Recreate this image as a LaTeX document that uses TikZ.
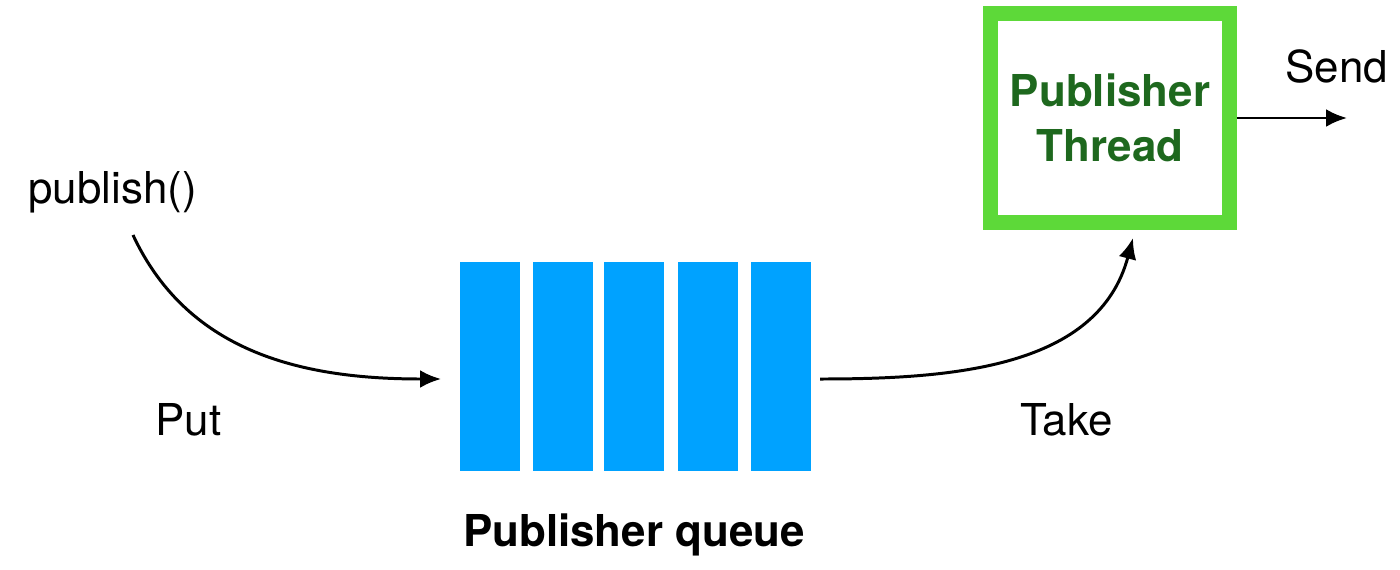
\documentclass[tikz,border=0pt]{standalone}
\usepackage{fontspec}
\setmainfont{TeX Gyre Heros}
\usetikzlibrary{arrows.meta}
\definecolor{qblue}{RGB}{0,162,255}
\definecolor{tgreen}{RGB}{93,217,57}
\definecolor{tdark}{RGB}{30,104,30}
\tikzstyle{queuebar}=[rectangle,fill=qblue,inner sep=0pt,
                      minimum width=1.2cm,minimum height=4.18cm]
\tikzstyle{threadbox}=[rectangle,draw=tgreen,line width=8.5pt,
                       minimum width=4.78cm,minimum height=4.18cm,
                       align=center,text=tdark,
                       font=\fontsize{25}{31}\selectfont\bfseries]
\tikzstyle{lbl}=[inner sep=0pt,font=\fontsize{25}{30}\selectfont]
\tikzstyle{flow}=[line width=1.7pt,-{Latex[length=4.2mm,width=3.6mm]}]

\begin{document}
\begin{tikzpicture}[x=0.02cm,y=-0.02cm]
    \useasboundingbox (0,0) rectangle (1400,569);
    \newcommand{\qy}{366.5}
    % queue
    \node (q1) at (490,   \qy) [queuebar]{};
    \node (q2) at (562.5, \qy) [queuebar]{};
    \node (q3) at (634,   \qy) [queuebar]{};
    \node (q4) at (707.5, \qy) [queuebar]{};
    \node (q5) at (781,   \qy) [queuebar]{};
    \node (qname) at (634,546) [lbl,anchor=base,font=\fontsize{25}{30}\selectfont\bfseries]{Publisher queue};
    % thread
    \node (thread) at (1110,118) [threadbox]{Publisher\\Thread};
    % labels
    \node (pub)  at (28,203)   [lbl,anchor=base west]{publish()};
    \node (put)  at (155,435)  [lbl,anchor=base west]{Put};
    \node (take) at (1020,435) [lbl,anchor=base west]{Take};
    \node (send) at (1285,82)  [lbl,anchor=base west]{Send};
    \coordinate (putstart) at (133,235);
    \coordinate (putend) at (441,379);
    \coordinate (takestart) at (820,379);
    \coordinate (takeend) at (1133,238);
    \coordinate (sendend) at (1347,118);
    % arrows
    \draw[flow] (putstart) to[out=-65,in=180] (putend);
    \draw[flow] (takestart) to[out=0,in=-105] (takeend);
    \draw[flow] (thread.east) -- (sendend);
  \end{tikzpicture}
\end{document}
